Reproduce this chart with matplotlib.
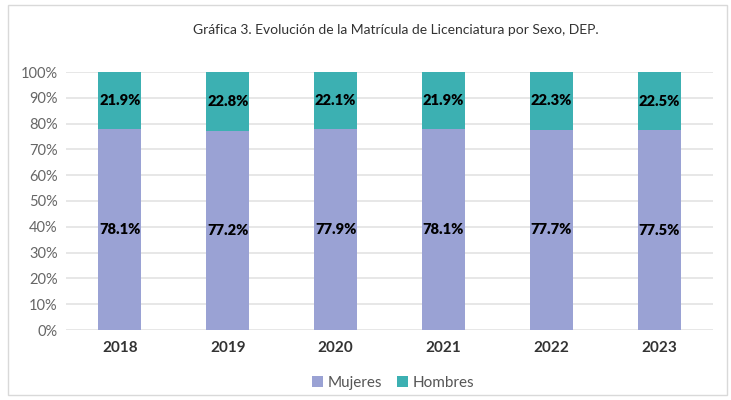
import matplotlib
matplotlib.use("Agg")
import matplotlib.pyplot as plt
from matplotlib.patches import Rectangle
import numpy as np

years = ["2018", "2019", "2020", "2021", "2022", "2023"]
mujeres = [78.1, 77.2, 77.9, 78.1, 77.7, 77.5]
hombres = [21.9, 22.8, 22.1, 21.9, 22.3, 22.5]
yticks = [0, 10, 20, 30, 40, 50, 60, 70, 80, 90, 100]

c_muj = "#9aa2d4"
c_hom = "#3cb0b2"

plt.rcParams['font.family'] = ['Lato', 'DejaVu Sans']

fig = plt.figure(figsize=(7.31, 4.0), dpi=100)
fig.patch.set_facecolor("white")
# outer frame
fig.add_artist(Rectangle((8/731, 5/400), (727-8)/731, (395-5)/400, transform=fig.transFigure,
                         fill=False, edgecolor="#d9d9d9", linewidth=1.0))

ax = fig.add_axes([66/731, 1-330/400, (713-66)/731, (330-72)/400])
x = np.arange(len(years))
w = 0.40
ax.bar(x, mujeres, w, color=c_muj, label="Mujeres", zorder=3)
ax.bar(x, hombres, w, bottom=mujeres, color=c_hom, label="Hombres", zorder=3)

for i in range(len(years)):
    ax.text(x[i], mujeres[i]/2, f"{mujeres[i]:.1f}%", ha="center", va="center",
            fontsize=10.5, fontweight="heavy", color="black", zorder=4)
    ax.text(x[i], mujeres[i] + hombres[i]/2, f"{hombres[i]:.1f}%", ha="center", va="center",
            fontsize=10.5, fontweight="heavy", color="black", zorder=4)

ax.set_ylim(0, 100)
ax.set_xlim(-0.5, len(years)-0.5)
ax.set_yticks(yticks)
ax.set_yticklabels([f"{t}%" for t in yticks], fontsize=10.5, color="#666666")
ax.set_xticks(x)
ax.set_xticklabels(years, fontsize=11, fontweight="bold", color="#333333")
ax.tick_params(axis="both", length=0)
ax.tick_params(axis="y", pad=6)
ax.tick_params(axis="x", pad=8)
ax.grid(axis="y", color="#e3e3e3", linewidth=1.2, zorder=0)
for s in ax.spines.values():
    s.set_visible(False)

fig.text(0.542, 1-30/400, "Gráfica 3. Evolución de la Matrícula de Licenciatura por Sexo, DEP.",
         ha="center", va="center", fontsize=10, color="#333333")

leg = fig.legend(loc="center", bbox_to_anchor=(0.538, 1-383/400), ncol=2, frameon=False,
                 fontsize=11, handlelength=0.7, handleheight=0.7, handletextpad=0.3,
                 columnspacing=1.0)
for t in leg.get_texts():
    t.set_color("#555555")

fig.savefig("out.png", dpi=100, facecolor="white")
